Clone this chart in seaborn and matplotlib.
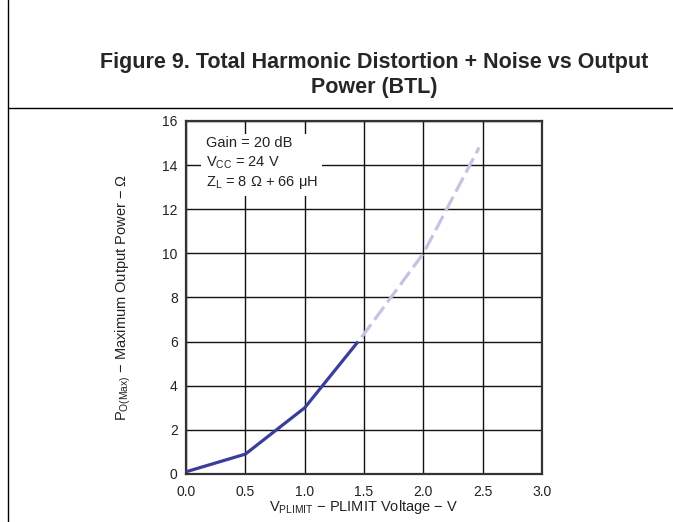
import numpy as np
import matplotlib
matplotlib.use("Agg")
import matplotlib.pyplot as plt
import seaborn as sns
import pandas as pd
from matplotlib.lines import Line2D

# PLIMIT voltage vs max output power
v_solid = [0.0, 0.5, 1.0, 1.45]
p_solid = [0.1, 0.9, 3.0, 6.0]
v_dash = [1.48, 2.0, 2.47]
p_dash = [6.2, 10.0, 14.8]

x_ticks = [0.0, 0.5, 1.0, 1.5, 2.0, 2.5, 3.0]
y_ticks = [0, 2, 4, 6, 8, 10, 12, 14, 16]

sns.set_style("white")
plt.rcParams['font.family'] = ['Liberation Sans', 'DejaVu Sans']
plt.rcParams['mathtext.fontset'] = 'custom'
plt.rcParams['mathtext.rm'] = 'Liberation Sans'

fig = plt.figure(figsize=(6.73, 5.22), dpi=100)
ax = fig.add_axes([0.2764, 0.0920, 0.5290, 0.6762])

solid = pd.DataFrame({"v": v_solid, "p": p_solid})
dash = pd.DataFrame({"v": v_dash, "p": p_dash})
sns.lineplot(data=solid, x="v", y="p", ax=ax, color="#3a3e9a", lw=2.3,
             solid_capstyle="butt", zorder=3)
sns.lineplot(data=dash, x="v", y="p", ax=ax, color="#c2c4e2", lw=2.3,
             dashes=False, zorder=3)
ax.lines[-1].set_dashes((5, 1.8))

ax.set_xlim(0, 3)
ax.set_ylim(0, 16)
ax.set_xticks(x_ticks)
ax.set_xticklabels([f"{t:.1f}" for t in x_ticks])
ax.set_yticks(y_ticks)
ax.grid(True, color="#111111", lw=1.0)
ax.tick_params(length=0, labelsize=10, colors="#222222")
ax.tick_params(axis="x", pad=8)
ax.tick_params(axis="y", pad=6)
for s in ax.spines.values():
    s.set_color("#333333")
    s.set_linewidth(1.6)

ax.set_xlabel(r"V$_{\mathregular{PLIMIT}}$ − PLIMIT Voltage − V", fontsize=10.5,
              labelpad=-1, color="#222222")
ax.set_ylabel(r"P$_{\mathregular{O(Max)}}$ − Maximum Output Power − Ω", fontsize=10.5,
              labelpad=21, color="#222222")

ax.text(0.165, 15.3,
        "Gain = 20 dB\n" + r"V$_{\mathregular{CC}}$ = 24 V" + "\n" +
        r"Z$_{\mathregular{L}}$ = 8 Ω + 66 μH",
        fontsize=10.5, va="top", ha="left", linespacing=1.3, color="#222222",
        bbox=dict(facecolor="white", edgecolor="none", pad=3), zorder=4)

fig.text(0.556, 0.857, "Figure 9. Total Harmonic Distortion + Noise vs Output\nPower (BTL)",
         ha="center", va="center", fontsize=15.5, fontweight="bold", linespacing=1.25)

# page frame lines
fig.add_artist(Line2D([8 / 673, 8 / 673], [0, 1], transform=fig.transFigure,
                      color="black", lw=1.0))
fig.add_artist(Line2D([8 / 673, 1], [1 - 108 / 522, 1 - 108 / 522],
                      transform=fig.transFigure, color="black", lw=1.0))

fig.savefig("out.png", dpi=100)
